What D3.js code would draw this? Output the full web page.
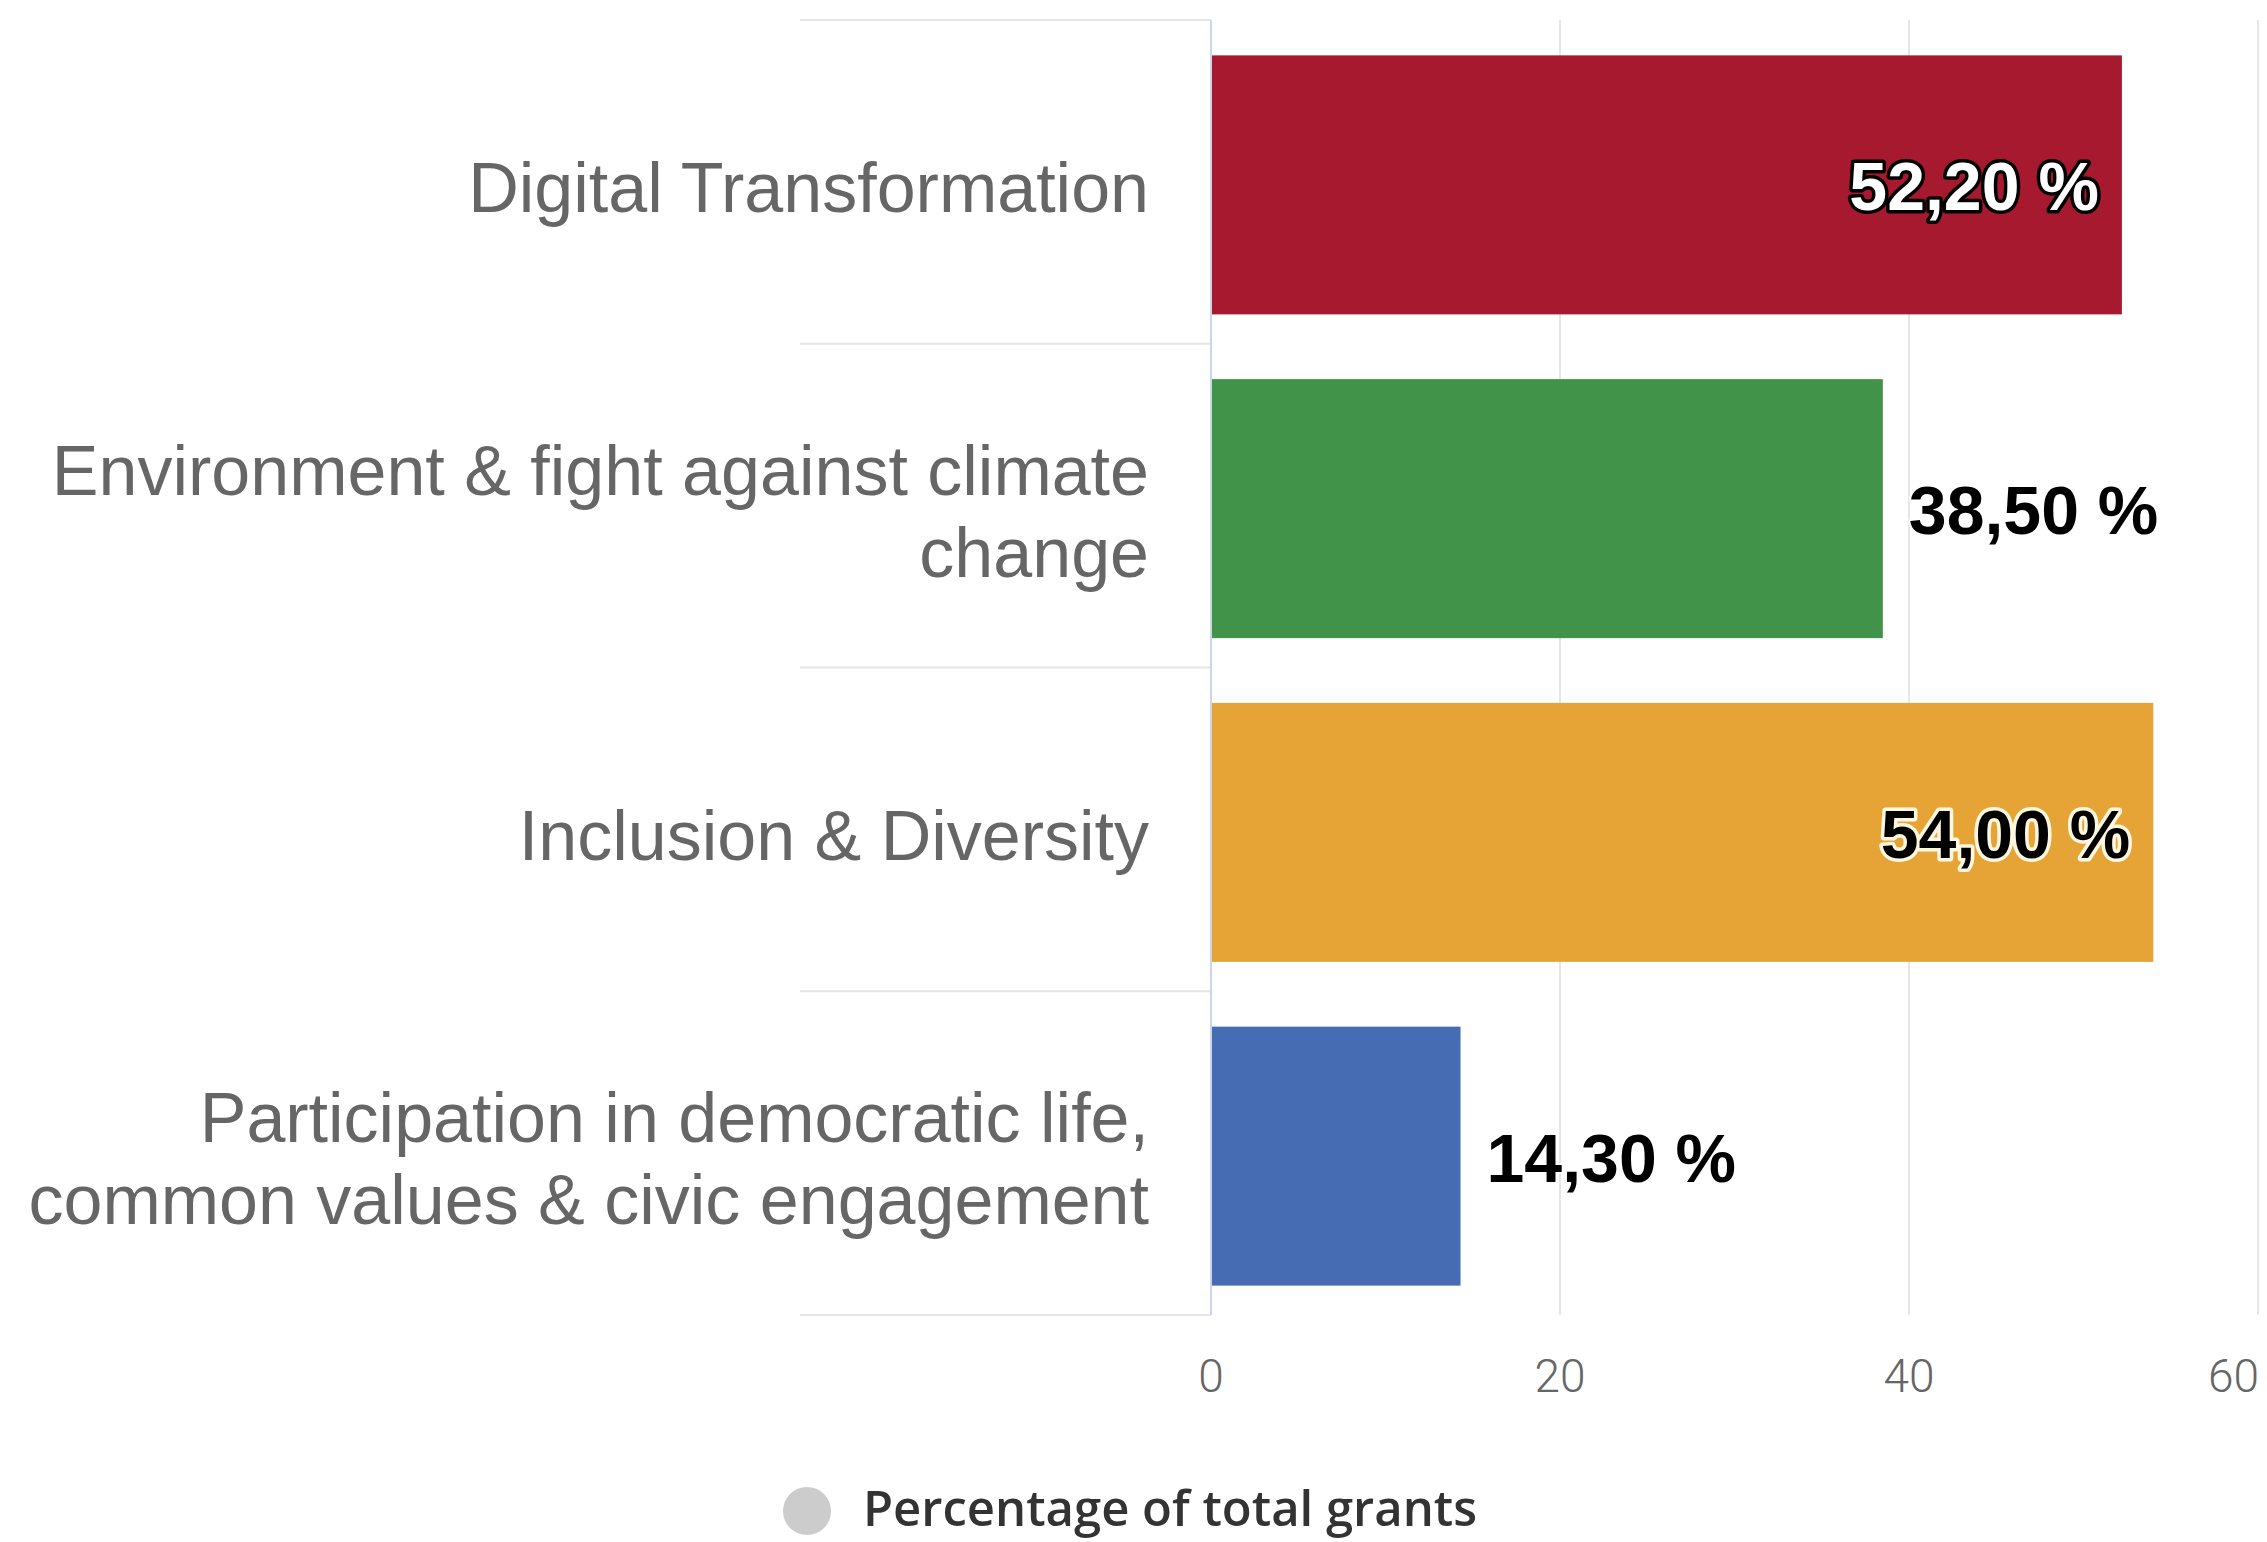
<!DOCTYPE html>
<html>
<head>
<meta charset="utf-8">
<script src="https://cdn.jsdelivr.net/npm/d3@7"></script>
<style>
  html, body { margin: 0; padding: 0; background: #ffffff; }
  svg { display: block; }
</style>
</head>
<body>
<div id="chart"></div>
<script>
const categories = [
  "Digital Transformation",
  "Environment & fight against climate change",
  "Inclusion & Diversity",
  "Participation in democratic life, common values & civic engagement"
];
const categoryLines = [
  ["Digital Transformation"],
  ["Environment & fight against climate", "change"],
  ["Inclusion & Diversity"],
  ["Participation in democratic life,", "common values & civic engagement"]
];
const values = [52.2, 38.5, 54.0, 14.3];
const valueLabels = ["52,20 %", "38,50 %", "54,00 %", "14,30 %"];
const barColors = ["#a6192e", "#42934a", "#e5a435", "#466db4"];
const xTicks = [0, 20, 40, 60];
const xDomain = [0, 60];
const seriesName = "Percentage of total grants";

const W = 2267, H = 1542;
const margin = { top: 20, right: 9, bottom: 227, left: 1211 };
const plotRight = W - margin.right;
const plotBottom = H - margin.bottom;

const svg = d3.select("#chart").append("svg").attr("width", W).attr("height", H);

const x = d3.scaleLinear().domain(xDomain).range([margin.left, plotRight]);
// category slots (separator lines at slot boundaries)
const slots = d3.scaleBand().domain(categories).range([margin.top, plotBottom]);
// bars sit slightly below slot centre, as in the reference
const y = d3.scaleBand().domain(categories).range([margin.top + 3, plotBottom + 3]).paddingInner(0.2).paddingOuter(0.1);

// vertical gridlines
svg.append("g").selectAll("line").data(xTicks.filter(t => t !== 0)).join("line")
  .attr("x1", d => x(d)).attr("x2", d => x(d))
  .attr("y1", margin.top).attr("y2", plotBottom)
  .attr("stroke", "#e6e6e6").attr("stroke-width", 2);

// category separator lines (ticks extending left)
const bounds = categories.map(c => slots(c)).concat([plotBottom]);
svg.append("g").selectAll("line").data(bounds).join("line")
  .attr("x1", 800).attr("x2", margin.left)
  .attr("y1", d => d).attr("y2", d => d)
  .attr("stroke", "#e6e6e6").attr("stroke-width", 2);

// bars
svg.append("g").selectAll("rect").data(categories).join("rect")
  .attr("x", x(0))
  .attr("y", d => y(d))
  .attr("width", (d, i) => x(values[i]) - x(0))
  .attr("height", y.bandwidth())
  .attr("fill", (d, i) => barColors[i]);

// y axis line
svg.append("line")
  .attr("x1", margin.left).attr("x2", margin.left)
  .attr("y1", margin.top).attr("y2", plotBottom)
  .attr("stroke", "#ccd6eb").attr("stroke-width", 2);

// category labels
const catFont = 70, lineH = 82;
const catG = svg.append("g")
  .attr("font-family", "'Liberation Sans', Arial, sans-serif")
  .attr("font-size", catFont).attr("fill", "#666666").attr("text-anchor", "end");
categories.forEach((c, i) => {
  const lines = categoryLines[i];
  const cy = slots(c) + slots.bandwidth() / 2 + 5;
  const first = cy - (lines.length - 1) * lineH / 2;
  const t = catG.append("text").attr("x", 1149);
  lines.forEach((ln, j) => {
    t.append("tspan").attr("x", 1149).attr("y", first + j * lineH + 0.36 * catFont).text(ln);
  });
});

// x axis tick labels
const tickG = svg.append("g")
  .attr("font-family", "Roboto, 'Open Sans', sans-serif")
  .attr("font-weight", 300)
  .attr("font-size", 46).attr("fill", "#666666");
tickG.selectAll("text").data(xTicks).join("text")
  .attr("x", d => x(d)).attr("y", 1392)
  .attr("text-anchor", "middle")
  .text(d => d)
  .each(function(d) {
    const bb = this.getBBox();
    if (bb.x + bb.width > W - 4) {
      d3.select(this).attr("text-anchor", "end").attr("x", W - 8);
    }
  });

// data labels
function luminance(c) {
  const r = d3.rgb(c);
  return (0.299 * r.r + 0.587 * r.g + 0.114 * r.b) / 255;
}
const lblG = svg.append("g")
  .attr("font-family", "'Liberation Sans', Arial, sans-serif")
  .attr("font-weight", "bold").attr("font-size", 68);
categories.forEach((c, i) => {
  const cy = y(c) + y.bandwidth() / 2;
  const t = lblG.append("text")
    .attr("y", cy + 0.36 * 68 + 1)
    .attr("paint-order", "stroke")
    .attr("stroke-linejoin", "round")
    .text(valueLabels[i]);
  const w = t.node().getComputedTextLength();
  const end = x(values[i]);
  if (end + 26 + w > W - 8) {
    const dark = luminance(barColors[i]) > 0.5;
    t.attr("x", end - 23).attr("text-anchor", "end")
      .attr("fill", dark ? "#000000" : "#ffffff")
      .attr("stroke", dark ? "#fff6e0" : "#000000")
      .attr("stroke-width", 7);
  } else {
    t.attr("x", end + 26).attr("text-anchor", "start")
      .attr("fill", "#000000").attr("stroke", "#ffffff").attr("stroke-width", 4);
  }
});

// legend
const leg = svg.append("g");
leg.append("circle").attr("cx", 807).attr("cy", 1511).attr("r", 24).attr("fill", "#cccccc");
leg.append("text")
  .attr("x", 863).attr("y", 1526)
  .attr("font-family", "'Open Sans', sans-serif")
  .attr("font-weight", 600).attr("font-size", 49).attr("fill", "#333333")
  .text(seriesName);
</script>
</body>
</html>
